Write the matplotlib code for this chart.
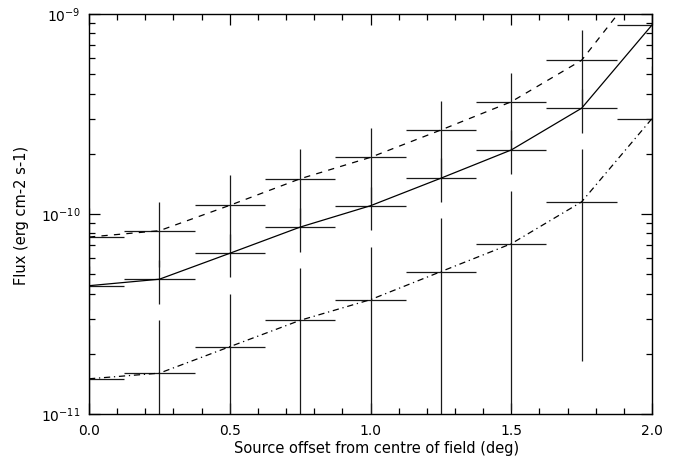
import matplotlib
matplotlib.use("Agg")
import matplotlib.pyplot as plt
import numpy as np
from matplotlib.ticker import LogLocator, MultipleLocator, FixedFormatter, FixedLocator

plt.rcParams['font.family'] = ['DejaVu Sans']
plt.rcParams['mathtext.default'] = 'regular'

# Source offset from centre of field (deg)
offset = [0.0, 0.25, 0.5, 0.75, 1.0, 1.25, 1.5, 1.75, 2.0]
half_bin = 0.125

# Upper (dashed) curve
upper_flux = [7.67e-11, 8.25e-11, 1.105e-10, 1.50e-10, 1.92e-10, 2.63e-10, 3.64e-10, 5.87e-10, 1.65e-9]
upper_hi   = [1.07e-10, 1.152e-10, 1.567e-10, 2.107e-10, 2.68e-10, 3.69e-10, 5.09e-10, 8.32e-10, 2.3e-9]
upper_lo   = [5.0e-11, 5.43e-11, 6.61e-11, 8.91e-11, 1.131e-10, 1.549e-10, 2.107e-10, 3.48e-10, 1.0e-9]

# Middle (solid) curve
mid_flux = [4.38e-11, 4.72e-11, 6.36e-11, 8.6e-11, 1.10e-10, 1.51e-10, 2.09e-10, 3.38e-10, 8.81e-10]
mid_hi   = [5.5e-11, 5.89e-11, 7.91e-11, 1.072e-10, 1.369e-10, 1.90e-10, 2.63e-10, 4.22e-10, 1.1e-9]
mid_lo   = [3.3e-11, 3.55e-11, 4.83e-11, 6.48e-11, 8.32e-11, 1.144e-10, 1.58e-10, 2.54e-10, 6.6e-10]

# Lower (dash-dot) curve
low_flux = [1.50e-11, 1.60e-11, 2.17e-11, 2.94e-11, 3.73e-11, 5.15e-11, 7.10e-11, 1.15e-10, 3.0e-10]
low_hi   = [2.8e-11, 2.95e-11, 3.98e-11, 5.39e-11, 6.86e-11, 9.52e-11, 1.303e-10, 2.11e-10, 5.5e-10]
low_lo   = [2.2e-12, 2.4e-12, 3.2e-12, 4.3e-12, 5.5e-12, 7.5e-12, 1.047e-11, 1.85e-11, 4.8e-11]

x_label = "Source offset from centre of field (deg)"
y_label = "Flux (erg cm-2 s-1)"
x_ticks = [0.0, 0.5, 1.0, 1.5, 2.0]
x_tick_labels = ["0.0", "0.5", "1.0", "1.5", "2.0"]

W, H = 676, 459
fig = plt.figure(figsize=(W/100, H/100), dpi=100)
ax_l, ax_b, ax_w, ax_h = 89/W, 1-414/H, (652-89)/W, (414-14)/H
ax = fig.add_axes([ax_l, ax_b, ax_w, ax_h])

series = [
    (upper_flux, upper_lo, upper_hi, (0, (5, 5))),
    (mid_flux, mid_lo, mid_hi, '-'),
    (low_flux, low_lo, low_hi, (0, (5, 3, 1, 3))),
]
for flux, lo, hi, ls in series:
    f = np.array(flux)
    yerr = np.vstack([f - np.array(lo), np.array(hi) - f])
    ax.errorbar(offset, f, xerr=half_bin, yerr=yerr, fmt='none',
                ecolor='#1a1a1a', elinewidth=0.9, capsize=0)
    ax.plot(offset, f, color='black', lw=0.9, linestyle=ls)

ax.set_yscale('log')
ax.set_xlim(0, 2.0)
ax.set_ylim(1e-11, 1e-9)

ax.xaxis.set_major_locator(FixedLocator(x_ticks))
ax.xaxis.set_major_formatter(FixedFormatter(x_tick_labels))
ax.xaxis.set_minor_locator(MultipleLocator(0.1))
ax.yaxis.set_major_locator(LogLocator(base=10, numticks=10))
ax.yaxis.set_minor_locator(LogLocator(base=10, subs=np.arange(2, 10), numticks=20))

ax.tick_params(which='both', direction='in', top=True, right=True, labelsize=10, colors='black')
ax.tick_params(which='major', length=8, width=0.9)
ax.tick_params(axis='x', which='major', pad=7)
ax.tick_params(axis='y', which='major', pad=6)
ax.tick_params(which='minor', length=4, width=0.9)
for s in ax.spines.values():
    s.set_linewidth(1.0)

ax.set_xlabel(x_label, fontsize=10.5, va='center')
ax.xaxis.set_label_coords((377 - 89) / (652 - 89), -(449 - 414) / (414 - 14))
ax.set_ylabel(y_label, fontsize=10.5, va='center')
ax.yaxis.set_label_coords(-(89 - 22) / (652 - 89), (414 - 215) / (414 - 14))

fig.savefig("out.png", dpi=100)
